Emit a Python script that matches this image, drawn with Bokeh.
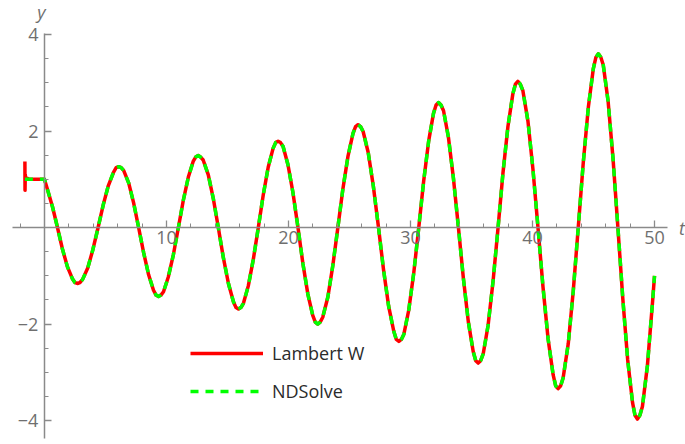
from bokeh.plotting import figure
from bokeh.models import Range1d, FixedTicker, Label, Legend, LegendItem
from bokeh.embed import file_html
from bokeh.resources import INLINE

# History segment (t < 0): the Lambert W series rings near t = -1.6
hist_t = [-1.60, -1.59, -1.57, -1.55, -1.50, -1.40, -1.25]
hist_lambert = [1.37, 0.77, 1.10, 1.04, 1.03, 1.02, 1.00]
hist_nds_t = [-1.60, 0.00]
hist_nds = [1.00, 1.00]

# Solution for t >= 0 (one row per half oscillation, starting at its extremum)
t_vals = [0.00, 0.25, 0.66, 1.07, 1.47, 1.88, 2.29, 2.50,
          2.70, 2.91, 3.12, 3.55, 3.97, 4.40, 4.82, 5.24, 5.67, 5.88,
          6.09, 6.29, 6.50, 6.91, 7.31, 7.72, 8.13, 8.54, 8.94, 9.15,
          9.35, 9.55, 9.76, 10.16, 10.57, 10.98, 11.38, 11.79, 12.19, 12.40,
          12.60, 12.80, 13.01, 13.43, 13.84, 14.25, 14.66, 15.08, 15.49, 15.70,
          15.90, 16.10, 16.31, 16.71, 17.12, 17.53, 17.93, 18.34, 18.74, 18.95,
          19.15, 19.35, 19.56, 19.96, 20.37, 20.78, 21.18, 21.59, 21.99, 22.20,
          22.40, 22.60, 22.81, 23.23, 23.64, 24.05, 24.46, 24.88, 25.29, 25.50,
          25.70, 25.91, 26.12, 26.54, 26.96, 27.38, 27.79, 28.21, 28.63, 28.84,
          29.05, 29.25, 29.46, 29.86, 30.27, 30.68, 31.08, 31.49, 31.89, 32.10,
          32.30, 32.50, 32.71, 33.11, 33.52, 33.93, 34.33, 34.74, 35.14, 35.35,
          35.55, 35.75, 35.96, 36.36, 36.77, 37.18, 37.58, 37.99, 38.39, 38.60,
          38.80, 39.00, 39.21, 39.63, 40.04, 40.45, 40.86, 41.28, 41.69, 41.90,
          42.10, 42.31, 42.51, 42.93, 43.34, 43.75, 44.16, 44.58, 44.99, 45.20,
          45.40, 45.60, 45.80, 46.20, 46.60, 47.00, 47.40, 47.80, 48.20, 48.40,
          48.60, 48.80, 49.01, 49.42, 49.83, 50.00]

y_vals = [1.00, 0.79, 0.43, 0.00, -0.44, -0.81, -1.06, -1.14,
          -1.16, -1.14, -1.08, -0.84, -0.46, 0.00, 0.47, 0.87, 1.15, 1.24,
          1.26, 1.24, 1.18, 0.92, 0.51, 0.00, -0.52, -0.98, -1.30, -1.40,
          -1.43, -1.40, -1.33, -1.02, -0.56, 0.00, 0.56, 1.04, 1.37, 1.46,
          1.49, 1.46, 1.40, 1.09, 0.60, 0.00, -0.62, -1.16, -1.54, -1.66,
          -1.69, -1.66, -1.57, -1.21, -0.66, 0.00, 0.67, 1.25, 1.64, 1.76,
          1.79, 1.76, 1.68, 1.30, 0.72, 0.00, -0.74, -1.38, -1.82, -1.96,
          -2.00, -1.96, -1.86, -1.44, -0.78, 0.00, 0.80, 1.48, 1.95, 2.09,
          2.13, 2.09, 1.99, 1.55, 0.85, 0.00, -0.87, -1.63, -2.15, -2.32,
          -2.36, -2.32, -2.21, -1.71, -0.94, 0.00, 0.96, 1.79, 2.37, 2.54,
          2.59, 2.54, 2.42, 1.87, 1.02, 0.00, -1.04, -1.95, -2.57, -2.76,
          -2.81, -2.76, -2.62, -2.03, -1.11, 0.00, 1.13, 2.10, 2.77, 2.97,
          3.03, 2.97, 2.84, 2.20, 1.20, 0.00, -1.23, -2.31, -3.05, -3.28,
          -3.34, -3.28, -3.12, -2.41, -1.32, 0.00, 1.34, 2.50, 3.30, 3.53,
          3.60, 3.53, 3.37, 2.61, 1.43, 0.00, -1.47, -2.74, -3.63, -3.89,
          -3.97, -3.89, -3.71, -2.86, -1.57, -1.00]

x_major = [10, 20, 30, 40, 50]
x_minor = [-2, 2, 4, 6, 8, 12, 14, 16, 18, 22, 24, 26, 28, 32, 34, 36, 38,
           42, 44, 46, 48]
y_major = [-4, -2, 2, 4]
y_minor = [-4.0, -3.5, -3.0, -2.5, -2.0, -1.5, -1.0, -0.5,
           0.5, 1.0, 1.5, 2.0, 2.5, 3.0, 3.5, 4.0]
y_tick_labels = {-4: "\u22124", -2: "\u22122", 2: "2", 4: "4"}

TICK_COLOR = "#6f6f6f"
AXIS_COLOR = "#8a8a8a"
FONT = "Open Sans"

p = figure(width=685, height=444, output_backend="svg", toolbar_location=None,
           x_range=Range1d(-3.6, 52.54), y_range=Range1d(-4.497, 4.705),
           min_border=0, outline_line_color=None)
p.grid.visible = False
p.background_fill_color = "white"

# Axes crossing at the origin
for ax in (p.xaxis[0], p.yaxis[0]):
    ax.fixed_location = 0
    ax.axis_line_color = AXIS_COLOR
    ax.axis_line_width = 1.5
    ax.major_tick_line_color = AXIS_COLOR
    ax.minor_tick_line_color = AXIS_COLOR
    ax.major_tick_line_width = 1.3
    ax.minor_tick_line_width = 1.0
    ax.major_tick_in = 7
    ax.major_tick_out = 0
    ax.minor_tick_in = 4
    ax.minor_tick_out = 0
    ax.major_label_text_color = TICK_COLOR
    ax.major_label_text_font = FONT
    ax.major_label_text_font_size = "18px"

p.xaxis.bounds = (-2.6, 51.1)
p.yaxis.bounds = (-4.37, 4.02)
p.xaxis.ticker = FixedTicker(ticks=x_major, minor_ticks=x_minor)
p.yaxis.ticker = FixedTicker(ticks=y_major, minor_ticks=y_minor)
p.yaxis.major_label_overrides = y_tick_labels
p.xaxis.major_label_standoff = 3
p.yaxis.major_label_standoff = 6

red = p.line(hist_t + t_vals, hist_lambert + y_vals, line_color="#ff0000",
             line_width=3.5, line_join="round")
green = p.line(hist_nds_t + t_vals, hist_nds + y_vals, line_color="#00ff00",
               line_width=3.5, line_dash="8 7", line_join="round")

legend = Legend(items=[LegendItem(label="Lambert W", renderers=[red]),
                       LegendItem(label="NDSolve", renderers=[green])],
                location=(190, 41), padding=0, margin=0, spacing=14,
                glyph_width=73, glyph_height=20, label_height=20,
                label_standoff=9, border_line_color=None,
                background_fill_alpha=0, label_text_font=FONT,
                label_text_font_size="18px", label_text_color="#2b2b2b")
p.add_layout(legend, "center")

p.add_layout(Label(x=-0.25, y=4.46, text="y", text_font=FONT,
                   text_font_style="italic", text_font_size="18px",
                   text_color=TICK_COLOR, text_align="center",
                   text_baseline="middle"))
p.add_layout(Label(x=52.0, y=0.0, text="t", text_font=FONT,
                   text_font_style="italic", text_font_size="18px",
                   text_color=TICK_COLOR, text_align="left",
                   text_baseline="middle"))

open("out.html", "w").write(file_html(p, INLINE))
